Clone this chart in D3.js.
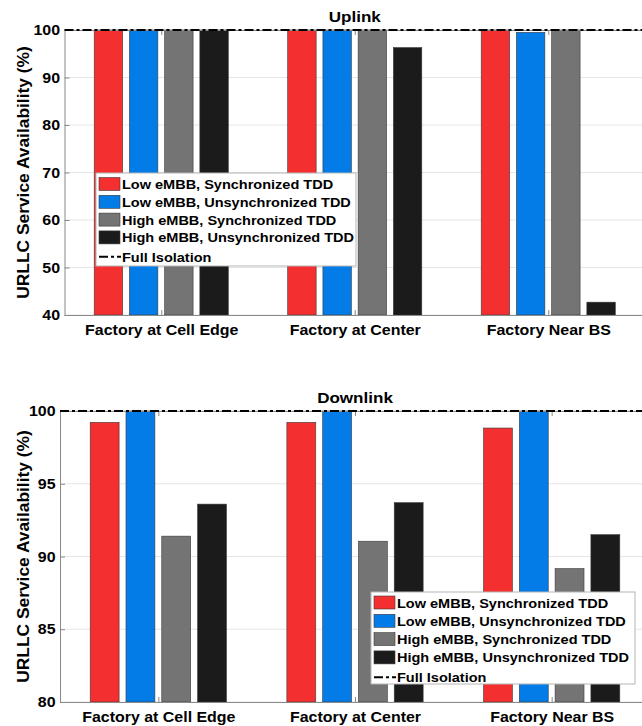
<!DOCTYPE html>
<html>
<head>
<meta charset="utf-8">
<script src="https://cdn.jsdelivr.net/npm/d3@7/dist/d3.min.js"></script>
<style>
  html, body { margin: 0; padding: 0; background: #fff; }
  svg { display: block; }
  text { font-family: "Liberation Sans", Arial, Helvetica, sans-serif; font-weight: bold; fill: #000; }
</style>
</head>
<body>
<svg id="chart" width="642" height="726"></svg>
<script>
// Scenario categories on the x axis
const categories = ["Factory at Cell Edge", "Factory at Center", "Factory Near BS"];

// Legend entries, one per bar series
const seriesNames = [
  "Low eMBB, Synchronized TDD",
  "Low eMBB, Unsynchronized TDD",
  "High eMBB, Synchronized TDD",
  "High eMBB, Unsynchronized TDD"
];
const seriesColors = ["#f42f2f", "#047ce8", "#747474", "#1b1b1b"];
const isolationName = "Full Isolation";

// Uplink service availability (%)
const uplinkLowSync    = [100, 100, 100];
const uplinkLowUnsync  = [100, 100, 99.5];
const uplinkHighSync   = [100, 100, 100];
const uplinkHighUnsync = [100, 96.3, 42.7];

// Downlink service availability (%)
const downlinkLowSync    = [99.22, 99.22, 98.83];
const downlinkLowUnsync  = [100, 100, 100];
const downlinkHighSync   = [91.4, 91.05, 89.17];
const downlinkHighUnsync = [93.6, 93.7, 91.5];

// Reference level reached with full isolation
const fullIsolation = 100;

// Y tick values
const uplinkTicks = [40, 50, 60, 70, 80, 90, 100];
const downlinkTicks = [80, 85, 90, 95, 100];

const svg = d3.select("#chart");
const SX = 1.1;          // horizontal stretch of the bold typeface
const FONT_TICK = 14.5, FONT_LEG = 13.2, FONT_TITLE = 15.5, FONT_YLAB = 15.8;

function addText(g, x, y, str, size, anchor, rot) {
  return g.append("text")
    .attr("transform", `translate(${x},${y}) rotate(${rot || 0}) scale(${SX},1)`)
    .attr("text-anchor", anchor || "start")
    .style("font-size", size + "px")
    .text(str);
}

const panels = [
  {
    title: "Uplink",
    series: [uplinkLowSync, uplinkLowUnsync, uplinkHighSync, uplinkHighUnsync],
    yDomain: [40, 100], yTicks: uplinkTicks,
    left: 64.5, right: 645, top: 30, bottom: 315,
    legend: { x: 96, y: 173, w: 260, h: 93, first: 11, step: 17.8 }
  },
  {
    title: "Downlink",
    series: [downlinkLowSync, downlinkLowUnsync, downlinkHighSync, downlinkHighUnsync],
    yDomain: [80, 100], yTicks: downlinkTicks,
    left: 60, right: 650, top: 411, bottom: 702,
    legend: { x: 371, y: 592, w: 264, h: 92, first: 10.5, step: 18.3 }
  }
];

const barStep = 0.182, barWidth = 0.147;
const dashPattern = "9,3,3,3";

panels.forEach(p => {
  const g = svg.append("g");
  const x = d3.scaleLinear().domain([0.5, 3.5]).range([p.left, p.right]);
  const y = d3.scaleLinear().domain(p.yDomain).range([p.bottom, p.top]);

  // horizontal grid
  g.append("g").selectAll("line").data(p.yTicks).join("line")
    .attr("x1", p.left).attr("x2", p.right)
    .attr("y1", d => y(d)).attr("y2", d => y(d))
    .attr("stroke", "#e6e6e6").attr("stroke-width", 1);

  // grouped bars
  p.series.forEach((vals, s) => {
    const off = (s - 1.5) * barStep;
    g.append("g").selectAll("rect").data(vals).join("rect")
      .attr("x", (d, i) => x(i + 1 + off - barWidth / 2))
      .attr("width", x(barWidth) - x(0))
      .attr("y", d => y(d))
      .attr("height", d => y(p.yDomain[0]) - y(d))
      .attr("fill", seriesColors[s])
      .attr("stroke", "#3a3a3a").attr("stroke-width", 0.6);
  });

  // axes
  const yAxis = d3.axisLeft(y).tickValues(p.yTicks).tickSize(-5).tickSizeOuter(0).tickPadding(4);
  const ya = g.append("g").attr("transform", `translate(${p.left},0)`).call(yAxis);
  ya.selectAll("text").attr("transform", `scale(${SX},1)`).style("font-size", FONT_TICK + "px").attr("fill", "#000");

  const xAxis = d3.axisBottom(x).tickValues([1, 2, 3]).tickFormat(i => categories[i - 1])
    .tickSize(-5).tickSizeOuter(0);
  const xa = g.append("g").attr("transform", `translate(0,${p.bottom})`).call(xAxis);
  xa.selectAll("text").attr("y", 20).attr("dy", null)
    .attr("transform", function () { return null; })
    .style("font-size", FONT_TICK + "px").attr("fill", "#000");
  xa.selectAll(".tick text").each(function () {
    const t = d3.select(this);
    t.attr("transform", `translate(0,20) scale(${SX},1)`).attr("y", 0);
  });

  const xTop = d3.axisTop(x).tickValues([1, 2, 3]).tickFormat("").tickSize(-5).tickSizeOuter(0);
  g.append("g").attr("transform", `translate(0,${p.top})`).call(xTop);

  [ya, xa].forEach(a => {
    a.select(".domain").attr("stroke", "#8a8a8a");
    a.selectAll(".tick line").attr("stroke", "#8a8a8a");
  });
  g.selectAll(".domain").attr("stroke", "#8a8a8a");
  g.selectAll(".tick line").attr("stroke", "#8a8a8a");

  // full isolation reference
  g.append("line")
    .attr("x1", p.left).attr("x2", p.right)
    .attr("y1", y(fullIsolation)).attr("y2", y(fullIsolation))
    .attr("stroke", "#000").attr("stroke-width", 2)
    .attr("stroke-dasharray", dashPattern);

  // title and y label
  addText(g, (p.left + p.right) / 2, p.top - 8, p.title, FONT_TITLE, "middle");
  addText(g, 29, (p.top + p.bottom) / 2, "URLLC Service Availability (%)", FONT_YLAB, "middle", -90);

  // legend
  const L = p.legend;
  const lg = g.append("g").attr("transform", `translate(${L.x},${L.y})`);
  lg.append("rect").attr("width", L.w).attr("height", L.h)
    .attr("fill", "#fff").attr("stroke", "#b5b5b5").attr("stroke-width", 1);
  seriesNames.forEach((name, s) => {
    const cy = L.first + s * L.step;
    lg.append("rect").attr("x", 3).attr("y", cy - 6.5).attr("width", 21).attr("height", 13)
      .attr("fill", seriesColors[s]).attr("stroke", "#3a3a3a").attr("stroke-width", 0.6);
    addText(lg, 26, cy + 5, name, FONT_LEG, "start");
  });
  const cy5 = L.first + 4 * L.step + 1.5;
  lg.append("line").attr("x1", 3).attr("x2", 25).attr("y1", cy5).attr("y2", cy5)
    .attr("stroke", "#000").attr("stroke-width", 2).attr("stroke-dasharray", dashPattern);
  addText(lg, 26, cy5 + 5, isolationName, FONT_LEG, "start");
});
</script>
</body>
</html>
